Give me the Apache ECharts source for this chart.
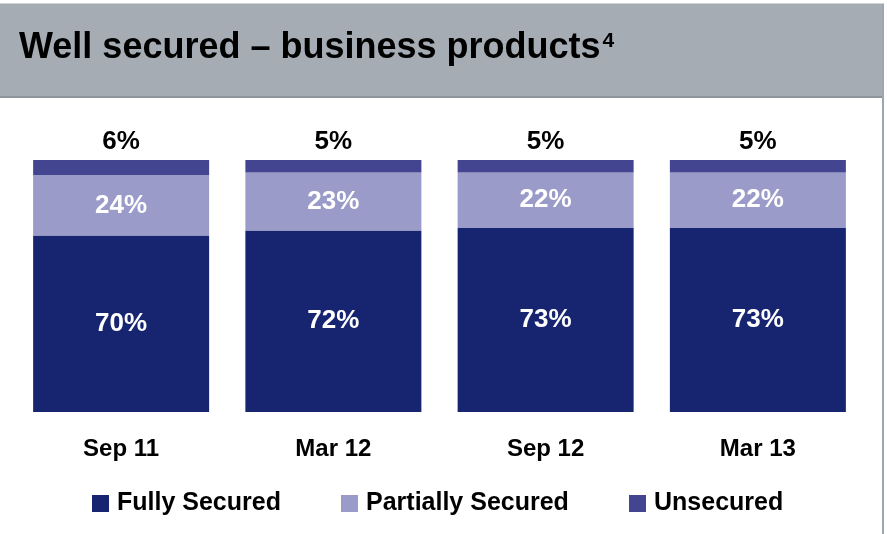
<!DOCTYPE html>
<html>
<head>
<meta charset="utf-8">
<script src="https://cdn.jsdelivr.net/npm/echarts@6/dist/echarts.min.js"></script>
<style>
html,body{margin:0;padding:0;background:#fff;}
#c{width:887px;height:534px;}
</style>
</head>
<body>
<div id="c"></div>
<script>
var categories = ['Sep 11', 'Mar 12', 'Sep 12', 'Mar 13'];
var fullySecured = [70, 72, 73, 73];
var partiallySecured = [24, 23, 22, 22];
var unsecured = [6, 5, 5, 5];
var seriesNames = ['Fully Secured', 'Partially Secured', 'Unsecured'];
var titleMain = 'Well secured – business products';
var titleSup = '4';

var FONT = '"Liberation Sans", Arial, sans-serif';
var colors = ['#17246f', '#9a9bc9', '#444591'];

var chart = echarts.init(document.getElementById('c'), null, {renderer: 'canvas'});

function pct(p) { return p.value + '%'; }

chart.setOption({
  animation: false,
  color: colors,
  graphic: [
    {type: 'rect', shape: {x: 0, y: 4, width: 884, height: 94}, style: {fill: '#a5acb3'}, z: 0},
    {type: 'rect', shape: {x: 0, y: 3, width: 884, height: 1}, style: {fill: '#cfd3d7'}, z: 1},
    {type: 'rect', shape: {x: 0, y: 96, width: 884, height: 2}, style: {fill: '#8e959c'}, z: 1},
    {type: 'rect', shape: {x: 882, y: 4, width: 2, height: 530}, style: {fill: '#9ea5ac'}, z: 1}
  ],
  title: {
    text: '{a|' + titleMain + '}{b|' + titleSup + '}',
    left: 19,
    top: 28,
    padding: 0,
    textStyle: {
      rich: {
        a: {fontFamily: FONT, fontSize: 36, fontWeight: 'bold', color: '#000', lineHeight: 40},
        b: {fontFamily: FONT, fontSize: 21, fontWeight: 'bold', color: '#000', lineHeight: 22, verticalAlign: 'top', padding: [3, 0, 0, 2]}
      }
    },
    z: 5
  },
  legend: [
    {data: [seriesNames[0]], left: 92, top: 491},
    {data: [seriesNames[1]], left: 341, top: 491},
    {data: [seriesNames[2]], left: 629, top: 491}
  ].map(function (l) {
    return Object.assign(l, {
      icon: 'rect', itemWidth: 17, itemHeight: 17, padding: 0, itemGap: 0,
      textStyle: {fontFamily: FONT, fontSize: 25, fontWeight: 'bold', color: '#000', padding: [0, 0, 0, 3]}
    });
  }),
  grid: {left: 15, right: 23, top: 160, bottom: 122, containLabel: false},
  xAxis: {
    type: 'category',
    data: categories,
    axisLine: {show: false},
    axisTick: {show: false},
    axisLabel: {fontFamily: FONT, fontSize: 24, fontWeight: 'bold', color: '#000', margin: 25}
  },
  yAxis: {
    type: 'value', min: 0, max: 100, interval: 25,
    show: false,
    splitLine: {show: false}
  },
  series: [
    {
      name: seriesNames[0], type: 'bar', stack: 's', data: fullySecured, barWidth: 176,
      itemStyle: {color: colors[0]},
      label: {show: true, position: 'inside', formatter: pct, fontFamily: FONT, fontSize: 26, fontWeight: 'bold', color: '#fff'}
    },
    {
      name: seriesNames[1], type: 'bar', stack: 's', data: partiallySecured, barWidth: 176,
      itemStyle: {color: colors[1]},
      label: {show: true, position: 'inside', formatter: pct, fontFamily: FONT, fontSize: 26, fontWeight: 'bold', color: '#fff'}
    },
    {
      name: seriesNames[2], type: 'bar', stack: 's', data: unsecured, barWidth: 176,
      itemStyle: {color: colors[2]},
      label: {show: true, position: 'top', distance: 5, formatter: pct, fontFamily: FONT, fontSize: 26, fontWeight: 'bold', color: '#000'}
    }
  ]
});
</script>
</body>
</html>
